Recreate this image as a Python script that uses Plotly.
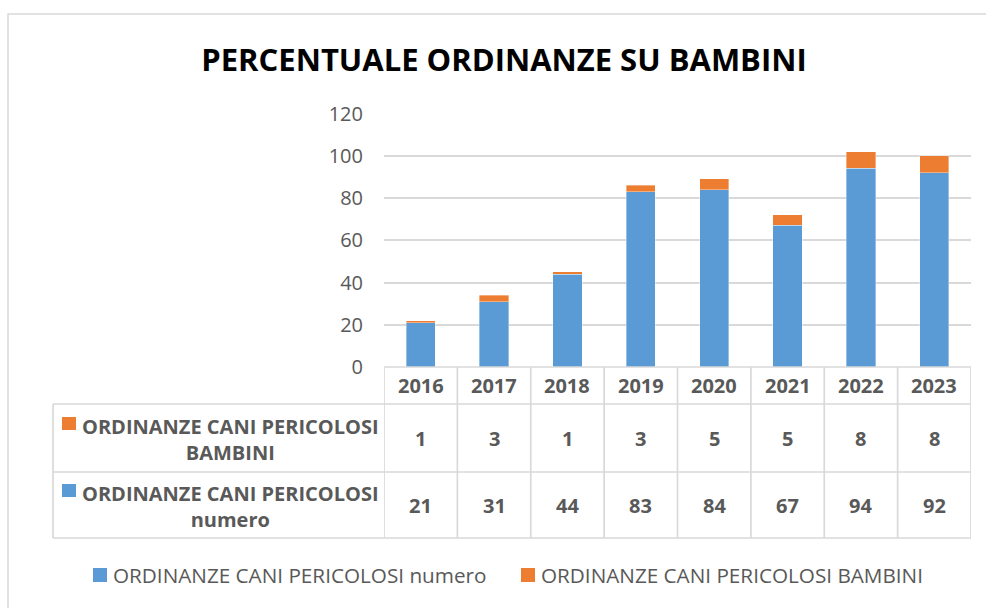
import plotly.graph_objects as go

# ---------------- data ----------------
years = ["2016", "2017", "2018", "2019", "2020", "2021", "2022", "2023"]
numero = [21, 31, 44, 83, 84, 67, 94, 92]
bambini = [1, 3, 1, 3, 5, 5, 8, 8]
name_numero = "ORDINANZE CANI PERICOLOSI numero"
name_bambini = "ORDINANZE CANI PERICOLOSI BAMBINI"
row_label_numero = ["ORDINANZE CANI PERICOLOSI", "numero"]
row_label_bambini = ["ORDINANZE CANI PERICOLOSI", "BAMBINI"]
title_text = "PERCENTUALE ORDINANZE SU BAMBINI"
yticks = [0, 20, 40, 60, 80, 100, 120]

# ---------------- style ----------------
W, H = 986, 608
BLUE = "#5B9BD5"
ORANGE = "#ED7D31"
GRID = "#D9D9D9"
TXT = "#595959"
FONT = "Open Sans"

PLOT_L, PLOT_R, PLOT_T, PLOT_B = 384, 971, 113.5, 367
TBL_L = 53
ROW_Y = [367, 404, 472, 538]  # header top, row1 top, row2 top, bottom


def px(x):
    return x / W


def py(y):
    return (H - y) / H


fig = go.Figure()
bar_line = dict(color="rgba(255,255,255,0.6)", width=0.6)
fig.add_bar(x=years, y=numero, name=name_numero, marker=dict(color=BLUE, line=bar_line), width=0.4)
fig.add_bar(x=years, y=bambini, name=name_bambini, marker=dict(color=ORANGE, line=bar_line), width=0.4)

shapes = []
annotations = []
line = dict(color=GRID, width=1.7)

# outer chart frame
shapes.append(dict(type="rect", xref="paper", yref="paper", x0=px(8), x1=px(W + 4),
                   y0=py(H + 4), y1=py(14), line=dict(color=GRID, width=1.5)))

# horizontal table lines
shapes.append(dict(type="line", xref="x", yref="paper", x0=-0.5, x1=len(years) - 0.5,
                   y0=py(ROW_Y[0]), y1=py(ROW_Y[0]), line=line))
for yy in ROW_Y[1:]:
    shapes.append(dict(type="line", xref="paper", yref="paper", x0=px(TBL_L), x1=px(PLOT_R),
                       y0=py(yy), y1=py(yy), line=line))
# vertical table lines
shapes.append(dict(type="line", xref="paper", yref="paper", x0=px(TBL_L), x1=px(TBL_L),
                   y0=py(ROW_Y[1]), y1=py(ROW_Y[3]), line=line))
for i in range(len(years) + 1):
    shapes.append(dict(type="line", xref="x", yref="paper", x0=i - 0.5, x1=i - 0.5,
                       y0=py(ROW_Y[0]), y1=py(ROW_Y[3]), line=line))

cell_font = dict(family=FONT, size=20, color=TXT)
hdr_y = (ROW_Y[0] + ROW_Y[1]) / 2
r1_y = (ROW_Y[1] + ROW_Y[2]) / 2
r2_y = (ROW_Y[2] + ROW_Y[3]) / 2

for i, yr in enumerate(years):
    for txt, yc in [(yr, hdr_y), (bambini[i], r1_y), (numero[i], r2_y)]:
        annotations.append(dict(xref="x", yref="paper", x=i, y=py(yc), text=f"<b>{txt}</b>",
                                showarrow=False, font=cell_font, xanchor="center", yanchor="middle"))

# row labels
for lbl, yc, col in [(row_label_bambini, r1_y, ORANGE), (row_label_numero, r2_y, BLUE)]:
    annotations.append(dict(xref="paper", yref="paper", x=px(230), y=py(yc + 1),
                            text="<b>" + "<br>".join(lbl) + "</b>", showarrow=False,
                            font=cell_font, xanchor="center", yanchor="middle", align="center"))
    top = yc - 21
    shapes.append(dict(type="rect", xref="paper", yref="paper", x0=px(62), x1=px(76),
                       y0=py(top + 13), y1=py(top), fillcolor=col, line=dict(width=0)))

# bottom legend
leg_font = dict(family=FONT, size=20.7, color=TXT)
for x0, col, nm in [(93, BLUE, name_numero), (521, ORANGE, name_bambini)]:
    shapes.append(dict(type="rect", xref="paper", yref="paper", x0=px(x0), x1=px(x0 + 14),
                       y0=py(582), y1=py(568), fillcolor=col, line=dict(width=0)))
    annotations.append(dict(xref="paper", yref="paper", x=px(x0 + 18), y=py(575), text=nm,
                            showarrow=False, font=leg_font, xanchor="left", yanchor="middle"))

fig.update_layout(
    width=W, height=H, autosize=False,
    margin=dict(l=0, r=0, t=0, b=0, pad=0, autoexpand=False),
    paper_bgcolor="white", plot_bgcolor="white",
    barmode="stack",
    showlegend=False,
    title=dict(text=f"<b>{title_text}</b>", x=px(504), y=1 - 60 / H, xref="paper", yref="container",
               xanchor="center", yanchor="middle", automargin=False,
               font=dict(family=FONT, size=31, color="#000000")),
    xaxis=dict(type="category", domain=[px(PLOT_L), px(PLOT_R)], range=[-0.5, len(years) - 0.5],
               showticklabels=False, showgrid=False, zeroline=False, showline=False, ticks="",
               automargin=False),
    yaxis=dict(domain=[py(PLOT_B), py(PLOT_T)], range=[0, 120], tickvals=yticks,
               showgrid=True, gridcolor=GRID, gridwidth=2, zeroline=False, showline=False,
               ticks="", ticklabelstandoff=20, automargin=False,
               tickfont=dict(family=FONT, size=20, color=TXT)),
    shapes=shapes,
    annotations=annotations,
    font=dict(family=FONT),
)

fig.write_html(
    "out.html",
    config={"displayModeBar": False},
    post_script="document.body.style.margin='0';document.body.style.overflow='hidden';",
)
